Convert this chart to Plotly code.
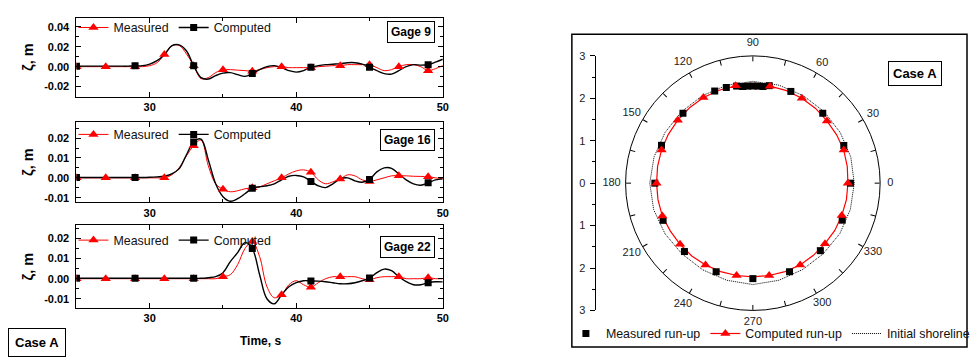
import plotly.graph_objects as go

W, H = 975, 358

# ---------------- data: time series (gages) ----------------
t = [25.0, 25.5, 26.0, 26.5, 27.0, 27.5, 28.0, 28.5, 29.0, 29.5,
     30.0, 30.5, 31.0, 31.5, 32.0, 32.5, 33.0, 33.5, 34.0, 34.5,
     35.0, 35.5, 36.0, 36.5, 37.0, 37.5, 38.0, 38.5, 39.0, 39.5,
     40.0, 40.5, 41.0, 41.5, 42.0, 42.5, 43.0, 43.5, 44.0, 44.5,
     45.0, 45.5, 46.0, 46.5, 47.0, 47.5, 48.0, 48.5, 49.0, 49.5,
     50.0]

meas_g9 = [0, 0, 0, 0, 0, 0, 0, 0, 0, 0,
           0.001, 0.004, 0.0123, 0.021, 0.0215, 0.013, 0.001, -0.012, -0.011, -0.006,
           -0.003, -0.003, -0.0035, -0.004, -0.0045, -0.003, -0.001, 0.0, 0.0, -0.001,
           -0.001, -0.001, -0.001, 0.0, 0.0005, 0.001, 0.001, 0.002, 0.002, 0.002,
           0.002, -0.001, -0.004, -0.003, 0.0, 0.002, 0.002, 0.0, -0.004, -0.002,
           0.001]
comp_g9 = [0.0005, 0.0005, 0.0005, 0.0005, 0.0005, 0.0005, 0.0005, 0.0005, 0.0008, 0.001,
           0.0026, 0.006, 0.012, 0.021, 0.022, 0.016, 0.001, -0.011, -0.0125, -0.009,
           -0.0065, -0.006, -0.008, -0.0098, -0.007, -0.003, 0.0, 0.001, -0.001, -0.004,
           -0.0055, -0.004, -0.0006, 0.001, 0.002, 0.0025, 0.003, 0.004, 0.004, 0.0025,
           -0.0006, -0.004, -0.007, -0.0075, -0.004, 0.0, 0.002, 0.0015, 0.002, 0.0045,
           0.0075]

meas_g16 = [0, 0, 0, 0, 0, 0, 0, 0, 0, 0,
            0, 0, 0, 0.0015, 0.005, 0.011, 0.0162, 0.019, 0.006, -0.003,
            -0.0058, -0.007, -0.0065, -0.0055, -0.005, -0.0045, -0.003, -0.0015, 0.0, 0.002,
            0.0035, 0.004, 0.0028, -0.001, -0.003, -0.002, -0.0006, 0.0015, 0.001, -0.001,
            -0.0018, -0.001, 0.0, 0.001, 0.0011, 0.001, 0.0008, 0.0007, 0.0006, 0.0,
            -0.0005]
comp_g16 = [0.0002, 0.0002, 0.0002, 0.0002, 0.0002, 0.0002, 0.0002, 0.0002, 0.0002, 0.0002,
            0.0003, 0.0005, 0.0008, 0.002, 0.0045, 0.0115, 0.018, 0.0195, 0.009, -0.003,
            -0.0095, -0.0118, -0.0105, -0.008, -0.0053, -0.0045, -0.004, -0.003, -0.001, 0.0008,
            0.0012, 0.0005, -0.0018, -0.004, -0.0049, -0.003, -0.0005, 0.0, -0.0015, -0.0022,
            -0.0008, 0.003, 0.005, 0.0048, 0.002, -0.001, -0.003, -0.0037, -0.0025, -0.001,
            -0.0005]

meas_g22 = [0, 0, 0, 0, 0, 0, 0, 0, 0, 0,
            0, 0, 0, 0, 0, 0, 0, 0, 0, 0,
            0.001, 0.002, 0.007, 0.015, 0.0185, 0.011, -0.004, -0.0095, -0.008, -0.003,
            -0.001, -0.003, -0.0043, -0.002, 0.0, 0.001, 0.001, 0.001, 0.001, 0.0,
            -0.0005, 0.0005, 0.001, 0.001, 0.001, 0.0, 0.0, 0.0, 0.0005, 0.0,
            0.0]
comp_g22 = [0.0002, 0.0002, 0.0002, 0.0002, 0.0002, 0.0002, 0.0002, 0.0002, 0.0002, 0.0002,
            0.0002, 0.0002, 0.0002, 0.0002, 0.0002, 0.0002, 0.0002, 0.0002, 0.0005, 0.001,
            0.003, 0.0085, 0.013, 0.018, 0.015, 0.002, -0.010, -0.0125, -0.008, -0.004,
            -0.002, -0.001, -0.0011, -0.0012, -0.0015, -0.002, -0.0025, -0.0025, -0.002, -0.001,
            0.0003, 0.003, 0.0048, 0.004, 0.001, -0.0015, -0.003, -0.003, -0.002, -0.0015,
            -0.0016]

gage_names = ["Gage 9", "Gage 16", "Gage 22"]
series_meas = [meas_g9, meas_g16, meas_g22]
series_comp = [comp_g9, comp_g16, comp_g22]
y_ranges = [[-0.0304, 0.0494], [-0.0124, 0.0281], [-0.0147, 0.0267]]
y_ticks = [[-0.02, 0.0, 0.02, 0.04], [-0.01, 0.0, 0.01, 0.02], [-0.01, 0.0, 0.01, 0.02]]
y_ticktext = [["-0.02", "0.00", "0.02", "0.04"], ["-0.01", "0.00", "0.01", "0.02"],
              ["-0.01", "0.00", "0.01", "0.02"]]
y_minor = [0.01, 0.005, 0.005]
x_ticks = [30, 40, 50]

# ---------------- data: run-up around the island ----------------
theta_comp = [0, 10, 20, 30, 40, 50, 60, 70, 80, 90, 100, 110, 120, 130, 140, 150, 160, 170,
              180, 190, 200, 210, 220, 230, 240, 250, 260, 270, 280, 290, 300, 310, 320, 330,
              340, 350, 360]
r_comp = [2.24, 2.26, 2.28, 2.28, 2.28, 2.30, 2.31, 2.32, 2.32, 2.29, 2.33, 2.33, 2.33, 2.32,
          2.31, 2.30, 2.29, 2.28, 2.27, 2.27, 2.27, 2.25, 2.24, 2.24, 2.23, 2.22, 2.21, 2.21,
          2.21, 2.22, 2.23, 2.22, 2.22, 2.23, 2.23, 2.24, 2.24]

theta_meas = [0, 22.5, 45, 67.5, 80.5, 84, 87, 90, 93, 96, 99.5, 105.5, 112.5, 135, 157.5,
              180, 202.5, 225, 247.5, 270, 292.5, 315, 337.5]
r_meas = [2.30, 2.32, 2.33, 2.34, 2.33, 2.29, 2.29, 2.29, 2.29, 2.29, 2.32, 2.34, 2.35, 2.33,
          2.33, 2.31, 2.29, 2.28, 2.26, 2.25, 2.26, 2.25, 2.28]

theta_shore = [0, 15, 30, 45, 60, 75, 90, 105, 120, 135, 150, 165, 180, 195, 210, 225, 240,
               255, 270, 285, 300, 315, 330, 345, 360]
r_shore = [2.39, 2.39, 2.38, 2.38, 2.38, 2.39, 2.40, 2.39, 2.38, 2.38, 2.39, 2.41, 2.43, 2.42,
           2.39, 2.36, 2.36, 2.37, 2.39, 2.37, 2.35, 2.35, 2.37, 2.38, 2.39]

ang_ticks = [0, 15, 30, 45, 60, 75, 90, 105, 120, 135, 150, 165, 180, 195, 210, 225, 240,
             255, 270, 285, 300, 315, 330, 345]
ang_labels = [0, 30, 60, 90, 120, 150, 180, 210, 240, 270, 300, 330]
ang_label_text = ["0", "30", "60", "90", "120", "150", "180", "210", "240", "270", "300", "330"]
ang_label_r = [3.24, 3.27, 3.27, 3.29, 3.3, 3.3, 3.33, 3.3, 3.3, 3.29, 3.27, 3.27]
radial_ticks = [-3, -2, -1, 0, 1, 2, 3]
radial_ticktext = ["3", "2", "1", "0", "1", "2", "3"]

# ---------------- layout helpers ----------------
FONT = "Liberation Sans, Arial, Helvetica, sans-serif"
RED = "#ff0000"
BLACK = "#000000"


def px_x(x):
    return x / W


def px_y(y):
    return 1 - y / H


panel_px = [(12.0, 94.0), (120.0, 203.3), (226.7, 312.7)]
x_dom = [px_x(77), px_x(446)]
legend_y = [22.7, 133.3, 242.7]
gage_y = [26.7, 139.0, 249.0]

fig = go.Figure()

for i in range(3):
    n = "" if i == 0 else str(i + 1)
    xa, ya = "x" + n, "y" + n
    leg = "legend" if i == 0 else "legend" + str(i + 1)
    meas, comp = series_meas[i], series_comp[i]
    fig.add_trace(go.Scatter(x=t, y=meas, mode="lines", line=dict(color=RED, width=1, shape="spline"),
                             xaxis=xa, yaxis=ya, showlegend=False, hoverinfo="skip"))
    fig.add_trace(go.Scatter(x=t, y=comp, mode="lines", line=dict(color=BLACK, width=1.4, shape="spline"),
                             xaxis=xa, yaxis=ya, showlegend=False, hoverinfo="skip"))
    fig.add_trace(go.Scatter(x=t[::4], y=meas[::4], mode="markers",
                             marker=dict(symbol="triangle-up", color=RED, size=9),
                             xaxis=xa, yaxis=ya, showlegend=False))
    fig.add_trace(go.Scatter(x=t[::8], y=comp[::8], mode="markers",
                             marker=dict(symbol="square", color=BLACK, size=7),
                             xaxis=xa, yaxis=ya, showlegend=False))
    fig.add_trace(go.Scatter(x=[None], y=[None], mode="lines+markers", name="Measured",
                             line=dict(color=RED, width=1),
                             marker=dict(symbol="triangle-up", color=RED, size=9),
                             xaxis=xa, yaxis=ya, legend=leg))
    fig.add_trace(go.Scatter(x=[None], y=[None], mode="lines+markers", name="Computed",
                             line=dict(color=BLACK, width=1.4),
                             marker=dict(symbol="square", color=BLACK, size=7),
                             xaxis=xa, yaxis=ya, legend=leg))

    top, bot = panel_px[i]
    fig.layout["xaxis" + n] = dict(
        domain=x_dom, anchor=ya, range=[25, 50], tickvals=x_ticks,
        ticks="inside", ticklen=5, tickwidth=1, tickcolor=BLACK,
        showline=True, linecolor=BLACK, linewidth=1, mirror="ticks",
        showgrid=False, zeroline=False,
        tickfont=dict(family=FONT, size=11, color=BLACK, weight="bold"),
        minor=dict(dtick=5, tick0=25, ticks="inside", ticklen=3, tickcolor=BLACK, showgrid=False),
    )
    fig.layout["yaxis" + n] = dict(
        domain=[px_y(bot), px_y(top)], anchor=xa, range=y_ranges[i],
        tickvals=y_ticks[i], ticktext=y_ticktext[i],
        ticks="inside", ticklen=5, tickwidth=1, tickcolor=BLACK,
        showline=True, linecolor=BLACK, linewidth=1, mirror="ticks",
        showgrid=False, zeroline=False, ticklabelstandoff=4,
        tickfont=dict(family=FONT, size=11, color=BLACK, weight="bold"),
        minor=dict(dtick=y_minor[i], tick0=0, ticks="inside", ticklen=3, tickcolor=BLACK, showgrid=False),
    )
    fig.layout[leg] = dict(
        orientation="h", x=px_x(74), xanchor="left", y=px_y(legend_y[i]), yanchor="middle",
        bgcolor="rgba(0,0,0,0)", borderwidth=0,
        font=dict(family=FONT, size=12.4, color="#111"), itemwidth=30,
        tracegroupgap=0,
    )

# ---------------- polar ----------------
fig.add_trace(go.Scatterpolar(r=r_shore, theta=theta_shore, mode="lines", name="Initial shoreline",
                              line=dict(color=BLACK, width=1, dash="1px,1px"),
                              legend="legend4", legendrank=3, subplot="polar"))
fig.add_trace(go.Scatterpolar(r=r_comp, theta=theta_comp, mode="lines",
                              line=dict(color=RED, width=1.2), showlegend=False, subplot="polar"))
fig.add_trace(go.Scatterpolar(r=r_meas, theta=theta_meas, mode="markers", name="Measured run-up",
                              marker=dict(symbol="square", color=BLACK, size=7),
                              legend="legend4", legendrank=1, subplot="polar"))
fig.add_trace(go.Scatterpolar(r=r_comp[:-1:2], theta=theta_comp[:-1:2], mode="markers",
                              marker=dict(symbol="triangle-up", color=RED, size=9),
                              showlegend=False, subplot="polar"))
fig.add_trace(go.Scatterpolar(r=[None], theta=[None], mode="lines+markers", name="Computed run-up",
                              line=dict(color=RED, width=1.2),
                              marker=dict(symbol="triangle-up", color=RED, size=9),
                              legend="legend4", legendrank=2, subplot="polar"))

cx, cy, rad = 758.3, 183.3, 131.7
R_MAX = 3.0
R_LAB = 3.5  # extended range of the overlay used for the angular labels
rad2 = rad * R_LAB / R_MAX

# angular tick labels placed just outside the rim (overlay polar with a wider range)
fig.add_trace(go.Scatterpolar(r=ang_label_r, theta=ang_labels, mode="text",
                              text=ang_label_text, showlegend=False,
                              textfont=dict(family=FONT, size=11, color="#222"),
                              hoverinfo="skip", subplot="polar2"))

fig.update_layout(
    polar=dict(
        domain=dict(x=[px_x(cx - rad), px_x(cx + rad)], y=[px_y(cy + rad), px_y(cy - rad)]),
        bgcolor="white",
        radialaxis=dict(range=[0, R_MAX], visible=False, showgrid=False),
        angularaxis=dict(
            direction="counterclockwise", rotation=0,
            tickvals=ang_ticks, showticklabels=False,
            ticks="inside", ticklen=5, tickcolor=BLACK, tickwidth=1,
            showline=True, linecolor=BLACK, linewidth=1, showgrid=False,
        ),
    ),
    polar2=dict(
        domain=dict(x=[px_x(cx - rad2), px_x(cx + rad2)], y=[px_y(cy + rad2), px_y(cy - rad2)]),
        bgcolor="rgba(0,0,0,0)",
        radialaxis=dict(range=[0, R_LAB], visible=False, showgrid=False),
        angularaxis=dict(direction="counterclockwise", rotation=0, visible=False,
                         showgrid=False, showline=False),
    ),
)

# radial ruler on the left of the polar plot
fig.add_trace(go.Scatter(x=[None], y=[None], xaxis="x4", yaxis="y4", showlegend=False))
fig.layout["xaxis4"] = dict(domain=[px_x(600), px_x(602)], anchor="y4", visible=False, range=[0, 1])
fig.layout["yaxis4"] = dict(
    domain=[px_y(cy + rad), px_y(cy - rad)], anchor="x4", range=[-3, 3], side="left",
    tickvals=radial_ticks, ticktext=radial_ticktext,
    ticks="outside", ticklen=5, tickcolor=BLACK, showline=True, linecolor=BLACK, linewidth=1,
    showgrid=False, zeroline=False, ticklabelstandoff=2,
    tickfont=dict(family=FONT, size=11, color="#222"),
    minor=dict(dtick=0.5, tick0=0, ticks="outside", ticklen=3, tickcolor=BLACK, showgrid=False),
)
fig.layout["legend4"] = dict(
    orientation="h", x=px_x(570), xanchor="left", y=px_y(339.3), yanchor="middle",
    bgcolor="rgba(0,0,0,0)", borderwidth=0,
    font=dict(family=FONT, size=12.4, color="#111"), itemwidth=30,
)

# ---------------- annotations & frame ----------------
annots = []
for i in range(3):
    annots.append(dict(
        text=gage_names[i], x=px_x(438), y=px_y(gage_y[i]), xref="paper", yref="paper",
        xanchor="right", yanchor="middle", showarrow=False,
        font=dict(family=FONT, size=12, color=BLACK, weight="bold"),
        bordercolor=BLACK, borderwidth=1, borderpad=3, bgcolor="white",
    ))
    top, bot = panel_px[i]
    annots.append(dict(
        text="ζ, m", x=px_x(28), y=px_y((top + bot) / 2), xref="paper", yref="paper",
        xanchor="center", yanchor="middle", showarrow=False, textangle=-90,
        font=dict(family=FONT, size=14.5, color=BLACK, weight="bold"),
    ))
annots.append(dict(
    text="Time, s", x=px_x(262), y=px_y(347), xref="paper", yref="paper",
    xanchor="center", yanchor="middle", showarrow=False,
    font=dict(family=FONT, size=12, color=BLACK, weight="bold"),
))
annots.append(dict(
    text="Case A", x=px_x(37.5), y=px_y(348), xref="paper", yref="paper",
    xanchor="center", yanchor="middle", showarrow=False,
    font=dict(family=FONT, size=13, color=BLACK, weight="bold"),
    bordercolor=BLACK, borderwidth=1, borderpad=6, bgcolor="white",
))
annots.append(dict(
    text="Case A", x=px_x(921.3), y=px_y(69.5), xref="paper", yref="paper",
    xanchor="center", yanchor="middle", showarrow=False,
    font=dict(family=FONT, size=13, color=BLACK, weight="bold"),
    bordercolor=BLACK, borderwidth=1, borderpad=4, bgcolor="white",
))

fig.update_layout(
    width=W, height=H, margin=dict(l=0, r=0, t=0, b=0),
    paper_bgcolor="white", plot_bgcolor="white",
    font=dict(family=FONT, color=BLACK),
    annotations=annots,
    shapes=[dict(type="rect", xref="paper", yref="paper",
                 x0=px_x(576), x1=px_x(974), y0=px_y(352.7), y1=px_y(29.3),
                 line=dict(color=BLACK, width=1.5), fillcolor="rgba(0,0,0,0)", layer="below")],
)

fig.write_html("out.html")
